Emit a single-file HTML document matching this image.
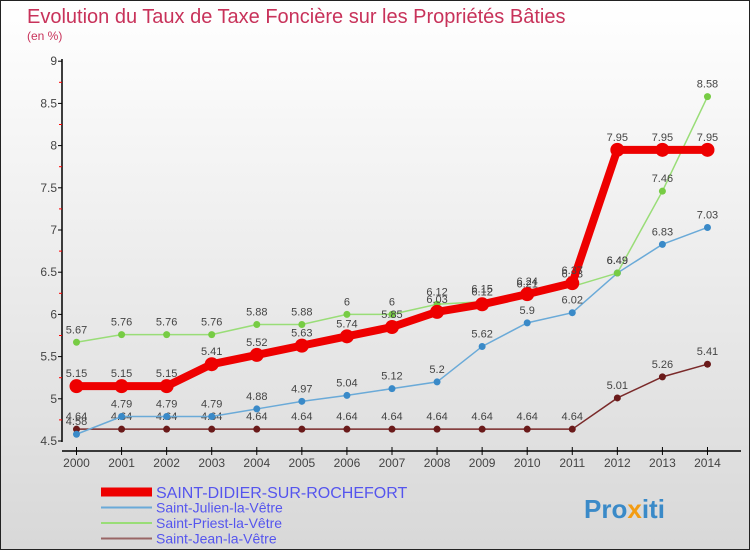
<!DOCTYPE html>
<html><head><meta charset="utf-8"><style>
body{margin:0}
#c{width:748px;height:548px;border:1px solid #222;background:linear-gradient(#fff,#d8d8d8);position:relative;font-family:"Liberation Sans",sans-serif;overflow:hidden}
svg text{font-family:"Liberation Sans",sans-serif}
</style></head><body>
<div id="c">
<svg id="s" width="748" height="548">
<text x="26" y="22" font-size="20" fill="#c8325a">Evolution du Taux de Taxe Foncière sur les Propriétés Bâties</text>
<text x="26" y="39" font-size="12" fill="#c8325a">(en %)</text>
</svg></div>
<script>
const years=[2000,2001,2002,2003,2004,2005,2006,2007,2008,2009,2010,2011,2012,2013,2014];
const didier=[5.15,5.15,5.15,5.41,5.52,5.63,5.74,5.85,6.03,6.12,6.24,6.37,7.95,7.95,7.95];
const julien=[4.58,4.79,4.79,4.79,4.88,4.97,5.04,5.12,5.2,5.62,5.9,6.02,6.49,6.83,7.03];
const priest=[5.67,5.76,5.76,5.76,5.88,5.88,6,6,6.12,6.15,6.21,6.33,6.49,7.46,8.58];
const jean=[4.64,4.64,4.64,4.64,4.64,4.64,4.64,4.64,4.64,4.64,4.64,4.64,5.01,5.26,5.41];
const yTicks=[4.5,5,5.5,6,6.5,7,7.5,8,8.5,9];
const names=["SAINT-DIDIER-SUR-ROCHEFORT","Saint-Julien-la-Vêtre","Saint-Priest-la-Vêtre","Saint-Jean-la-Vêtre"];
const NS="http://www.w3.org/2000/svg",s=document.getElementById('s');
const X=i=>75.5+i*45.07, Y=v=>440-(v-4.5)*84.4;
function el(t,a,p){const e=document.createElementNS(NS,t);for(const k in a)e.setAttribute(k,a[k]);(p||s).appendChild(e);return e;}
let e=el('line',{x1:61,y1:58,x2:61,y2:441,stroke:'#000','stroke-width':1.5});


e=el('line',{x1:61,y1:450,x2:740,y2:450,stroke:'#000','stroke-width':1.5});


yTicks.forEach((v,i)=>{el('line',{x1:57,x2:61,y1:Y(v),y2:Y(v),stroke:'#000'});
 if(i<yTicks.length-1)el('line',{x1:58,x2:61,y1:Y(v+0.25),y2:Y(v+0.25),stroke:'red'});
 const t=el('text',{x:56,y:Y(v)+4,'text-anchor':'end','font-size':12,fill:'#444'});t.textContent=v;
 
 });
years.forEach((y,i)=>{el('line',{x1:X(i),x2:X(i),y1:446,y2:454,stroke:'#000'});
 const t=el('text',{x:X(i),y:466,'text-anchor':'middle','font-size':12,fill:'#444'});t.textContent=y;
 
 });
function series(d,col,w,r,dot,name){
 const g=el('g',{});
 
 
 el('polyline',{points:d.map((v,i)=>X(i)+','+Y(v)).join(' '),fill:'none',stroke:col,'stroke-width':w},g);
 d.forEach((v,i)=>{el('circle',{cx:X(i),cy:Y(v),r:r,fill:dot},g);
  const t=el('text',{x:X(i),y:Y(v)-9,'text-anchor':'middle','font-size':11,fill:'#444'},g);t.textContent=v;});
}
series(jean,'#7a2a2a',1.5,3.5,'#6a1a1a','series-saint-jean');
series(julien,'#6aaad8',1.5,3.5,'#3a8ac8','series-saint-julien');
series(priest,'#99dd77',1.5,3.5,'#77cc44','series-saint-priest');
series(didier,'#ee0000',8,7,'#ee0000','series-saint-didier');
const cols=['#ee0000','#6aaad8','#99dd77','#996666'],ws=[9,2,2,2];
names.forEach((n,i)=>{const y=491+i*15.5;
 el('line',{x1:100,x2:151,y1:y,y2:y,stroke:cols[i],'stroke-width':ws[i]});
 const t=el('text',{x:155,y:y+(i?5:6),'font-size':i?14:16,fill:'#5555ee'});t.textContent=n;
 
 });
const p=el('text',{x:583,y:517,'font-size':26,'font-weight':'bold',fill:'#3a8ac8'});
p.innerHTML='Pro<tspan fill="#f39c12">x</tspan>iti';


</script>
</body></html>
